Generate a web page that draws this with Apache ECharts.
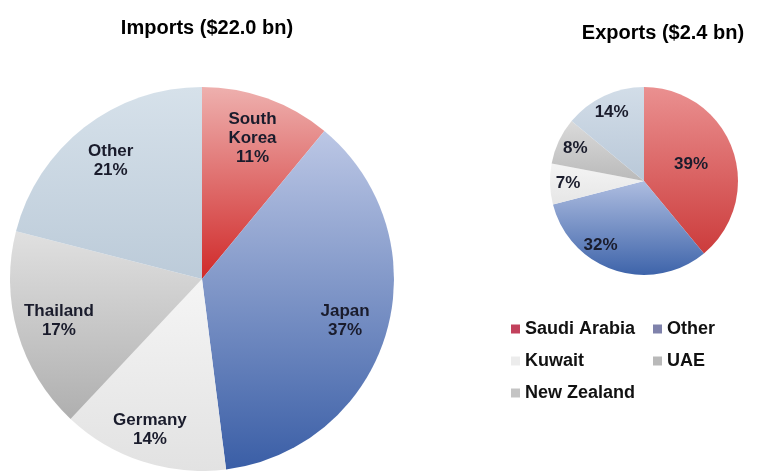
<!DOCTYPE html>
<html>
<head>
<meta charset="utf-8">
<script src="https://cdn.jsdelivr.net/npm/echarts@6/dist/echarts.min.js"></script>
<style>
  html, body { margin: 0; padding: 0; background: #fff; }
  #chart { width: 765px; height: 471px; }
</style>
</head>
<body>
<div id="chart"></div>
<script>
// values (shares in %)
const importNames = ['South Korea', 'Japan', 'Germany', 'Thailand', 'Other']
const importShares = [11, 37, 14, 17, 21]
const exportNames = ['Saudi Arabia', 'Other', 'Kuwait', 'UAE', 'New Zealand']
const exportShares = [39, 32, 7, 8, 14]

// slice fills, top -> bottom of each slice
const importFills = [
  ['#eeb0ae', '#d02a2a'],
  ['#bcc7e5', '#3a5ea6'],
  ['#f5f5f5', '#e2e2e2'],
  ['#e0e0e0', '#afafaf'],
  ['#d6e1ea', '#bccbd9']
]
const exportFills = [
  ['#ea9090', '#cc3c3c'],
  ['#aebde0', '#3e64aa'],
  ['#f4f4f4', '#e6e6e6'],
  ['#dadada', '#bababa'],
  ['#d2dde8', '#b9c8d8']
]
const legendColors = ['#c2415c', '#7f82ab', '#ececec', '#b9b9b9', '#c4c4c4']

// small nudges where the original labels sit off the slice middle
const labelNudge = { Germany: [-6, 9], Other32: [-20, -8] }

const labelFont = {
  color: '#1a1c2c',
  fontFamily: 'Liberation Sans, Arial, sans-serif',
  fontWeight: 'bold',
  fontSize: 17,
  lineHeight: 19
}

function grad (pair) {
  return {
    type: 'linear', x: 0, y: 0, x2: 0, y2: 1,
    colorStops: [{ offset: 0, color: pair[0] }, { offset: 1, color: pair[1] }]
  }
}

function slices (names, values, fills) {
  return names.map((n, i) => ({ name: n, value: values[i], itemStyle: { color: grad(fills[i]) } }))
}

// transparent copies that only carry labels, so labels sit ~3/4 of the way out
function labelRing (names, values, hide, nudgeKey) {
  return names.map((n, i) => {
    const key = nudgeKey ? nudgeKey(n, values[i]) : n
    const lab = { show: !(hide && hide.includes(n)) }
    if (labelNudge[key]) lab.offset = labelNudge[key]
    return { name: n, value: values[i], itemStyle: { color: 'transparent' }, label: lab }
  })
}

const chart = echarts.init(document.getElementById('chart'))
chart.setOption({
  animation: false,
  title: [
    {
      text: 'Imports ($22.0 bn)',
      left: 202,
      top: 13,
      textAlign: 'center',
      textStyle: { fontFamily: 'Liberation Sans, Arial, sans-serif', fontSize: 20, fontWeight: 'bold', color: '#000' }
    },
    {
      text: 'Exports ($2.4 bn)',
      left: 658,
      top: 18,
      textAlign: 'center',
      textStyle: { fontFamily: 'Liberation Sans, Arial, sans-serif', fontSize: 20, fontWeight: 'bold', color: '#000' }
    }
  ],
  legend: {
    left: 511,
    top: 319,
    width: 280,
    padding: 0,
    itemWidth: 9,
    itemHeight: 9,
    itemGap: 12,
    icon: 'rect',
    selectedMode: false,
    textStyle: {
      fontFamily: 'Liberation Sans, Arial, sans-serif',
      fontSize: 18,
      fontWeight: 'bold',
      color: '#111',
      width: 116,
      lineHeight: 20
    },
    data: exportNames.map((n, i) => ({ name: n, itemStyle: { color: legendColors[i] } }))
  },
  series: [
    {
      type: 'pie',
      center: [202, 279],
      radius: 192,
      startAngle: 90,
      clockwise: true,
      silent: true,
      label: { show: false },
      labelLine: { show: false },
      data: slices(importNames, importShares, importFills)
    },
    {
      type: 'pie',
      center: [202, 279],
      radius: 292,
      startAngle: 90,
      clockwise: true,
      silent: true,
      labelLine: { show: false },
      label: {
        position: 'inside',
        ...labelFont,
        formatter: p => p.name.replace(' ', '\n') + '\n' + p.value + '%'
      },
      data: labelRing(importNames, importShares)
    },
    {
      type: 'pie',
      center: [644, 181],
      radius: 94,
      startAngle: 90,
      clockwise: true,
      silent: true,
      labelLine: { show: false },
      label: {
        show: true,
        position: 'inside',
        ...labelFont,
        formatter: p => (p.name === 'Saudi Arabia' ? p.value + '%' : '')
      },
      data: slices(exportNames, exportShares, exportFills)
    },
    {
      type: 'pie',
      center: [644, 181],
      radius: 146,
      startAngle: 90,
      clockwise: true,
      silent: true,
      labelLine: { show: false },
      label: {
        position: 'inside',
        ...labelFont,
        formatter: '{c}%'
      },
      data: labelRing(exportNames, exportShares, ['Saudi Arabia'], (n, v) => n + v)
    }
  ]
})
</script>
</body>
</html>
